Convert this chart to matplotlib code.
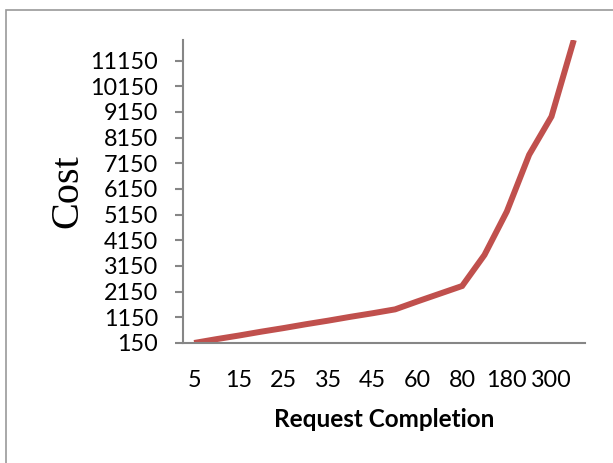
import matplotlib
matplotlib.use("Agg")
import matplotlib.pyplot as plt
from matplotlib.patches import Rectangle

# cost per request completion (18 categories, every second one labelled)
cost = [150, 300, 440, 590, 730, 880, 1020, 1170, 1310, 1460,
        1770, 2070, 2370, 3580, 5270, 7480, 8970, 11950]
tick_labels = ["5", "15", "25", "35", "45", "60", "80", "180", "300"]
y_ticks = [150, 1150, 2150, 3150, 4150, 5150, 6150, 7150, 8150, 9150, 10150, 11150]

axis_grey = "#868686"

fig = plt.figure(figsize=(6.13, 4.63), dpi=100)
ax = fig.add_axes([0.2985, 0.2592, 0.6558, 0.6544])

x = list(range(len(cost)))
ax.plot(x, cost, color="#C0504D", lw=4.3, solid_capstyle="butt", solid_joinstyle="miter")

ax.set_xlim(-0.5, len(cost) - 0.5)
ax.set_ylim(150, 11950)

ax.set_xticks(x[::2])
ax.set_xticklabels(tick_labels)
ax.set_yticks(y_ticks)

for side in ["top", "right"]:
    ax.spines[side].set_visible(False)
for side in ["left", "bottom"]:
    ax.spines[side].set_color(axis_grey)
    ax.spines[side].set_linewidth(1.5)

ax.tick_params(axis="y", direction="out", length=6, width=1.5, color=axis_grey,
               pad=12, labelsize=16.8)
ax.tick_params(axis="x", length=0, pad=19.5, labelsize=16.8)
for lab in ax.get_xticklabels() + ax.get_yticklabels():
    lab.set_fontfamily("Lato")

ax.set_ylabel("Cost", fontsize=29, family="Liberation Serif", labelpad=3)
ax.set_xlabel("Request Completion", fontsize=17.5, family="Lato", fontweight="bold", labelpad=12)

# chart frame
fig.patches.append(Rectangle((6 / 613, -0.1), 1.2, 1 - 10 / 463 + 0.1,
                             transform=fig.transFigure, fill=False,
                             edgecolor="#999999", lw=1.2))

fig.savefig("out.png", dpi=100)
